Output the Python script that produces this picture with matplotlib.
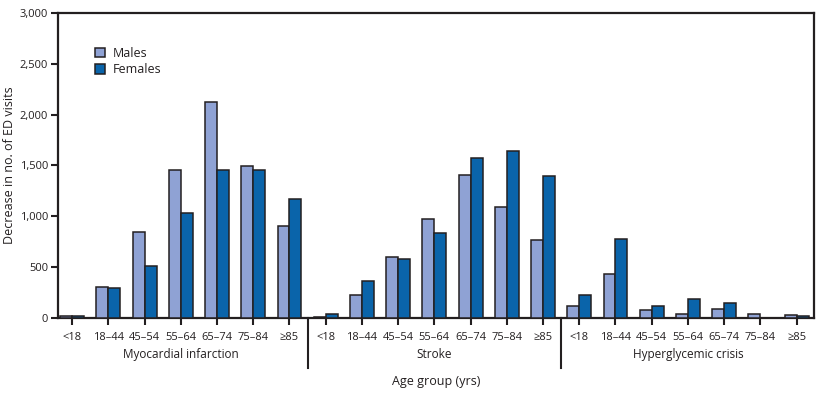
import matplotlib
matplotlib.use("Agg")
import matplotlib.pyplot as plt
import matplotlib.transforms as mtransforms
import numpy as np

# --- data ---
age_groups = ["<18", "18\u201344", "45\u201354", "55\u201364", "65\u201374", "75\u201384", "\u226585"]
conditions = ["Myocardial infarction", "Stroke", "Hyperglycemic crisis"]

mi_males = [20, 300, 845, 1455, 2120, 1490, 900]
mi_females = [20, 290, 510, 1035, 1460, 1455, 1170]
stroke_males = [8, 225, 595, 970, 1405, 1090, 765]
stroke_females = [40, 360, 580, 835, 1570, 1645, 1395]
hyper_males = [115, 435, 80, 35, 90, 35, 30]
hyper_females = [225, 775, 115, 185, 145, 2, 20]

COLOR_M = "#8FA2D4"
COLOR_F = "#0A64AA"
EDGE = "#231F20"
TEXT = "#231F20"

plt.rcParams["font.family"] = ["Open Sans", "DejaVu Sans"]

males = mi_males + stroke_males + hyper_males
females = mi_females + stroke_females + hyper_females
n_grp = len(age_groups)
x = np.arange(len(males))
width = 0.33

fig = plt.figure(figsize=(8.2, 3.93), dpi=100)
ax = fig.add_axes([0.0707, 0.191, 0.922, 0.776])

ax.bar(x - width / 2, males, width, color=COLOR_M, edgecolor=EDGE, linewidth=1.1,
       label="Males", zorder=3)
ax.bar(x + width / 2, females, width, color=COLOR_F, edgecolor=EDGE, linewidth=1.1,
       label="Females", zorder=3)

ax.set_xlim(-0.39, len(males) - 0.52)
ax.set_ylim(0, 3000)
ax.set_yticks(np.arange(0, 3001, 500))
ax.set_yticklabels([f"{v:,}" for v in range(0, 3001, 500)], fontsize=8, color=TEXT)
ax.set_xticks(x)
ax.set_xticklabels(age_groups * len(conditions), fontsize=8, color=TEXT)
ax.tick_params(axis="x", direction="out", length=5, width=1.5, pad=5, color=EDGE)
ax.tick_params(axis="y", direction="out", length=5, width=1.5, pad=2, color=EDGE)

for sp in ax.spines.values():
    sp.set_linewidth(1.6)
    sp.set_color(EDGE)

ax.set_ylabel("Decrease in no. of ED visits", fontsize=9, color=TEXT, va="center")
ax.yaxis.set_label_coords(-0.064, 0.5)

# group labels and separators below the axis
trans = mtransforms.blended_transform_factory(ax.transData, ax.transAxes)
for i, name in enumerate(conditions):
    center = i * n_grp + (n_grp - 1) / 2
    ax.text(center, -0.121, name, transform=trans, ha="center", va="center",
            fontsize=8.5, color=TEXT)
    if i > 0:
        xs = i * n_grp - 0.5
        ax.plot([xs, xs], [0, -0.164], transform=trans, color=EDGE, lw=1.5,
                clip_on=False)

ax.text(0.5, -0.207, "Age group (yrs)", transform=ax.transAxes, ha="center",
        va="center", fontsize=9, color=TEXT)

leg = ax.legend(loc="upper left", bbox_to_anchor=(0.043, 0.905), frameon=False,
                fontsize=9, handlelength=0.8, handleheight=0.8,
                handletextpad=0.6, labelspacing=0.25, borderaxespad=0)
for t in leg.get_texts():
    t.set_color(TEXT)

fig.savefig("out.png", dpi=100)
